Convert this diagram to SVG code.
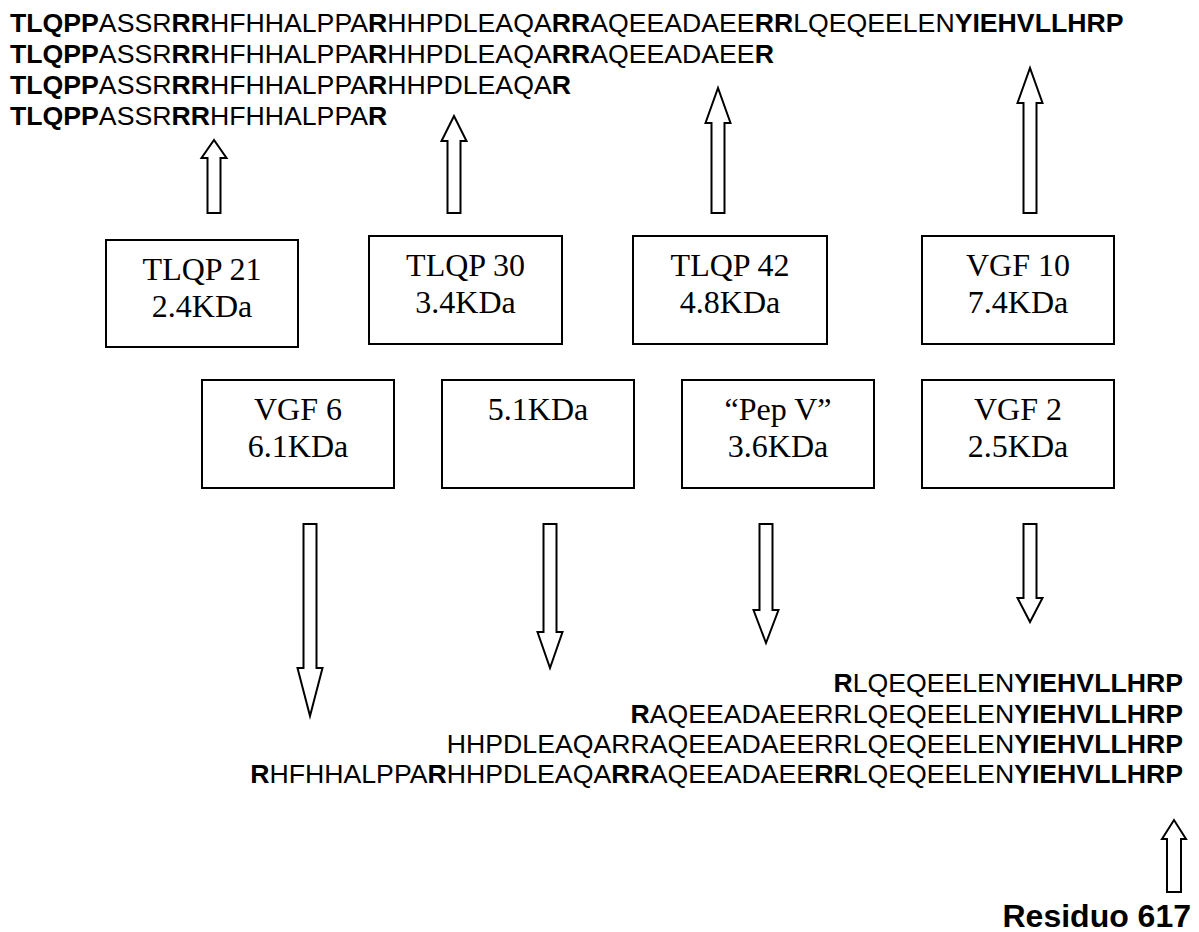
<svg xmlns="http://www.w3.org/2000/svg" width="1199" height="932" viewBox="0 0 1199 932">
<style>
.seq{font-family:"Liberation Sans",Arial,sans-serif;font-size:26.67px;fill:#000}
.b{font-weight:bold}
.box{fill:#fff;stroke:#000;stroke-width:2}
.lbl{font-family:"Liberation Serif","Times New Roman",serif;font-size:32px;fill:#000;text-anchor:middle}
.arr{fill:#fff;stroke:#000;stroke-width:2;stroke-linejoin:miter}
.res{font-family:"Liberation Sans",Arial,sans-serif;font-size:32px;font-weight:bold;fill:#000;text-anchor:end}
</style>
<rect width="1199" height="932" fill="#fff"/>
<g id="top-sequences">
<text class="seq" x="10" y="32"><tspan class="b">TLQPP</tspan>ASSR<tspan class="b">RR</tspan>HFHHALPPA<tspan class="b">R</tspan>HHPDLEAQA<tspan class="b">RR</tspan>AQEEADAEE<tspan class="b">RR</tspan>LQEQEELEN<tspan class="b">YIEHVLLHRP</tspan></text>
<text class="seq" x="10" y="63"><tspan class="b">TLQPP</tspan>ASSR<tspan class="b">RR</tspan>HFHHALPPA<tspan class="b">R</tspan>HHPDLEAQA<tspan class="b">RR</tspan>AQEEADAEE<tspan class="b">R</tspan></text>
<text class="seq" x="10" y="94"><tspan class="b">TLQPP</tspan>ASSR<tspan class="b">RR</tspan>HFHHALPPA<tspan class="b">R</tspan>HHPDLEAQA<tspan class="b">R</tspan></text>
<text class="seq" x="10" y="125"><tspan class="b">TLQPP</tspan>ASSR<tspan class="b">RR</tspan>HFHHALPPA<tspan class="b">R</tspan></text>
</g>
<g id="bottom-sequences">
<text class="seq" x="1183" y="692" text-anchor="end"><tspan class="b">R</tspan>LQEQEELEN<tspan class="b">YIEHVLLHRP</tspan></text>
<text class="seq" x="1183" y="723" text-anchor="end"><tspan class="b">R</tspan>AQEEADAEERRLQEQEELEN<tspan class="b">YIEHVLLHRP</tspan></text>
<text class="seq" x="1183" y="753" text-anchor="end">HHPDLEAQARRAQEEADAEERRLQEQEELEN<tspan class="b">YIEHVLLHRP</tspan></text>
<text class="seq" x="1183" y="783" text-anchor="end"><tspan class="b">R</tspan>HFHHALPPA<tspan class="b">R</tspan>HHPDLEAQA<tspan class="b">RR</tspan>AQEEADAEE<tspan class="b">RR</tspan>LQEQEELEN<tspan class="b">YIEHVLLHRP</tspan></text>
</g>
<g id="tlqp21"><rect class="box" x="106" y="240" width="192" height="107"/><text class="lbl" x="202" y="280">TLQP 21</text><text class="lbl" x="202" y="317">2.4KDa</text></g>
<g id="tlqp30"><rect class="box" x="369" y="236" width="193" height="108"/><text class="lbl" x="465.5" y="276">TLQP 30</text><text class="lbl" x="465.5" y="313">3.4KDa</text></g>
<g id="tlqp42"><rect class="box" x="633" y="236" width="194" height="108"/><text class="lbl" x="730" y="276">TLQP 42</text><text class="lbl" x="730" y="313">4.8KDa</text></g>
<g id="vgf10"><rect class="box" x="922" y="236" width="192" height="108"/><text class="lbl" x="1018" y="276">VGF 10</text><text class="lbl" x="1018" y="313">7.4KDa</text></g>
<g id="vgf6"><rect class="box" x="202" y="380" width="192" height="108"/><text class="lbl" x="298" y="420">VGF 6</text><text class="lbl" x="298" y="457">6.1KDa</text></g>
<g id="kda51"><rect class="box" x="442" y="380" width="192" height="108"/><text class="lbl" x="538" y="420">5.1KDa</text></g>
<g id="pepv"><rect class="box" x="682" y="380" width="192" height="108"/><text class="lbl" x="778" y="420">“Pep V”</text><text class="lbl" x="778" y="457">3.6KDa</text></g>
<g id="vgf2"><rect class="box" x="922" y="380" width="192" height="108"/><text class="lbl" x="1018" y="420">VGF 2</text><text class="lbl" x="1018" y="457">2.5KDa</text></g>
<g id="residuo"><text class="res" x="1191" y="927">Residuo 617</text></g>
<g id="connectors">
<polygon class="arr" points="207.5,213 220.5,213 220.5,158 226.5,158 214,140 201.5,158 207.5,158"/>
<polygon class="arr" points="447.5,213 460.5,213 460.5,141 466.5,141 454,116 441.5,141 447.5,141"/>
<polygon class="arr" points="711.5,213 724.5,213 724.5,123 730.5,123 718,88 705.5,123 711.5,123"/>
<polygon class="arr" points="1023.5,213 1036.5,213 1036.5,103 1042.5,103 1030,68 1017.5,103 1023.5,103"/>
<polygon class="arr" points="303.5,524 316.5,524 316.5,668 322.5,668 310,716 297.5,668 303.5,668"/>
<polygon class="arr" points="543.5,524 556.5,524 556.5,632 562.5,632 550,668 537.5,632 543.5,632"/>
<polygon class="arr" points="759.5,524 772.5,524 772.5,610 778.5,610 766,643 753.5,610 759.5,610"/>
<polygon class="arr" points="1023.5,524 1036.5,524 1036.5,598 1042.5,598 1030,622 1017.5,598 1023.5,598"/>
<polygon class="arr" points="1167,892 1181,892 1181,839 1186,839 1174,820 1162,839 1167,839"/>
</g>
</svg>
